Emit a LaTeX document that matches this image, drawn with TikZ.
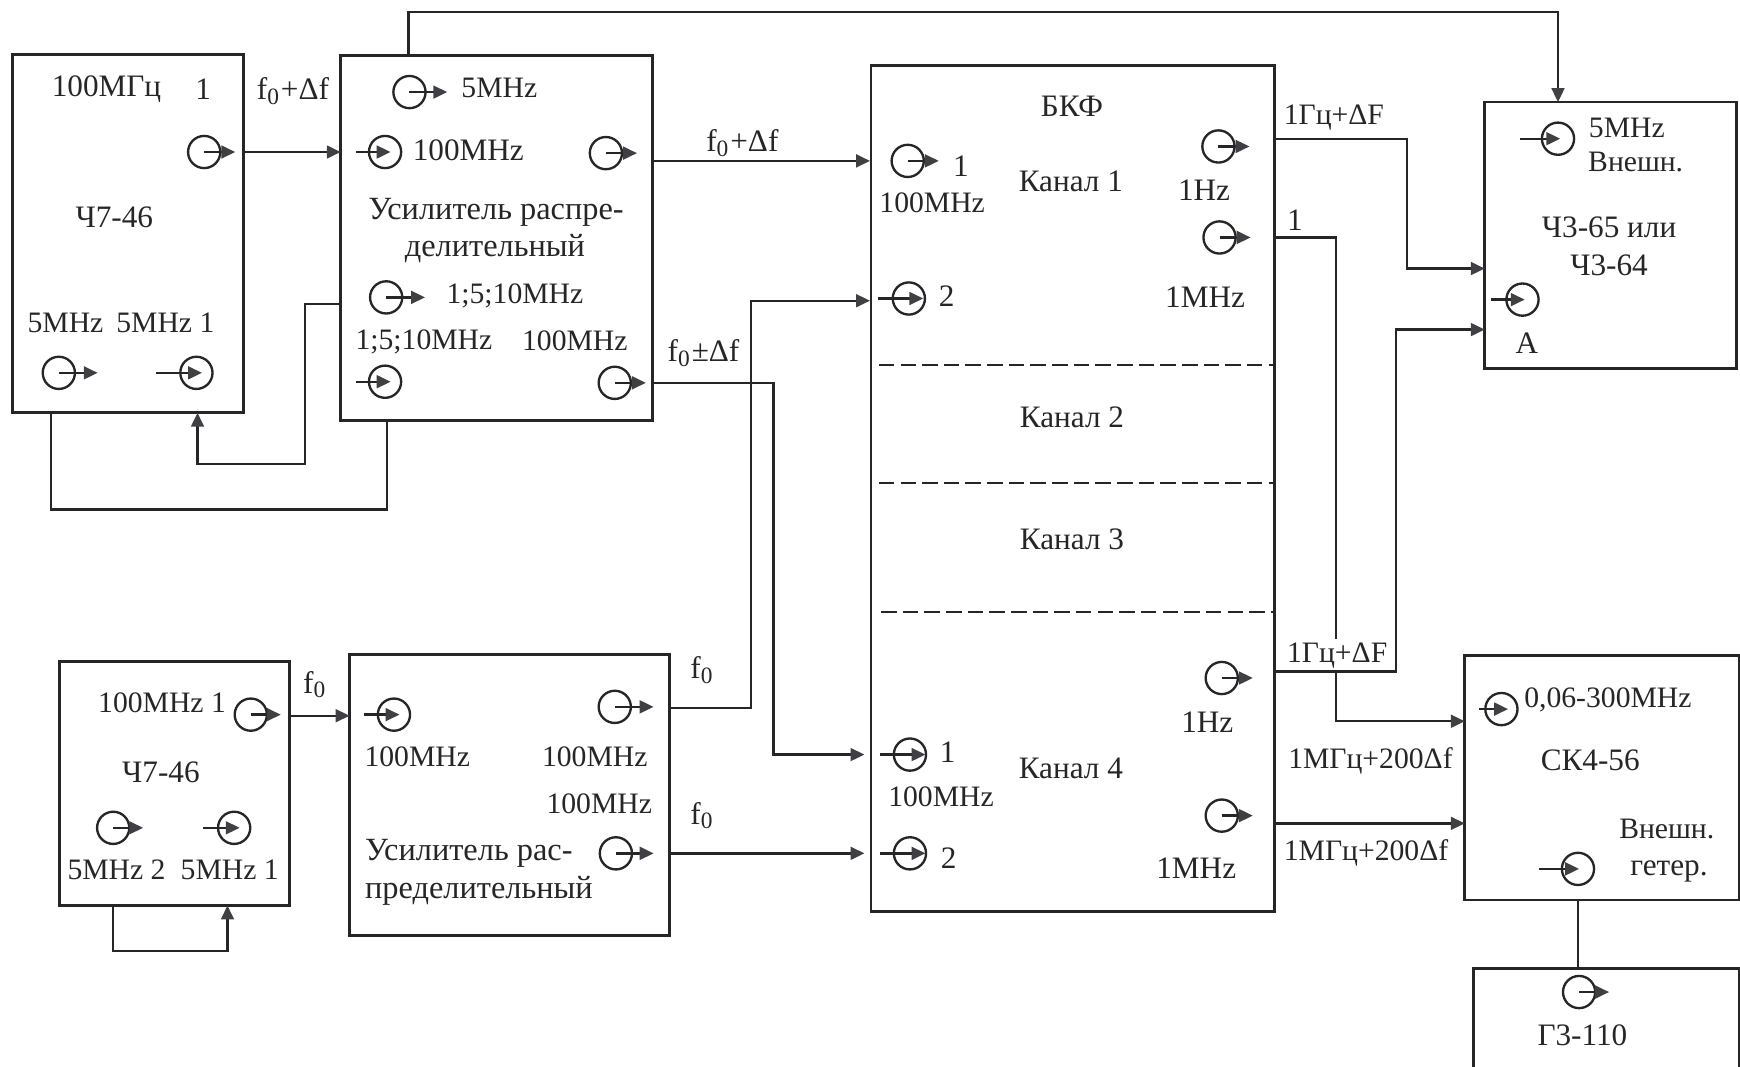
\documentclass[tikz,border=0pt]{standalone}
\definecolor{inkDark}{RGB}{38,38,38}
\definecolor{tipGray}{RGB}{64,64,68}
\usepackage{fontspec}
\setmainfont{Liberation Serif}
\usetikzlibrary{arrows.meta,positioning,calc}

\begin{document}
\begin{tikzpicture}[x=0.01cm, y=-0.01cm, inkDark,
        every node/.style={font=\fontsize{8}{9.6}\selectfont, inner sep=0pt, outer sep=0pt},
        blockbox/.style={draw, line width=0.75pt},
        jack/.style={draw, circle, minimum size=0.29cm, line width=0.6pt},
        arr/.style={-{Triangle[length=0.125cm,width=0.115cm,color=tipGray]},line width=0.6pt},
        lnk/.style={line width=0.6pt},
        chsep/.style={line width=0.55pt, dash pattern=on 0.14cm off 0.055cm},
        lbl/.style={fill=white, inner xsep=1pt, inner ysep=1pt},
        narrowtxt/.style={font=\fontsize{7.6}{9}\selectfont},
        widetxt/.style={font=\fontsize{8.3}{10}\selectfont}
      ]
        \useasboundingbox (0,0) rectangle (1568,961.5);
        % Blocks
        \node[blockbox, minimum width=2.08cm, minimum height=3.23cm] (genA) at (115,210.5) {};
        \node[blockbox, minimum width=2.81cm, minimum height=3.29cm] (ampA) at (447.5,214.5) {};
        \node[blockbox, minimum width=3.63cm, minimum height=7.62cm] (bkf) at (966.5,440) {};
        \node[blockbox, minimum width=2.27cm, minimum height=2.40cm] (chm) at (1451.5,212) {};
        \node[blockbox, minimum width=2.07cm, minimum height=2.20cm] (genB) at (157.5,706) {};
        \node[blockbox, minimum width=2.88cm, minimum height=2.53cm] (ampB) at (459,716.5) {};
        \node[blockbox, minimum width=2.47cm, minimum height=2.20cm] (ska) at (1443.5,701) {};
        \node[blockbox, minimum width=2.39cm, minimum height=1.10cm] (gthr) at (1447.5,928) {};
        % Channel separators
        \coordinate (sepAl) at (792,329);
        \coordinate (sepAr) at (1148,329);
        \coordinate (sepBl) at (792,435);
        \coordinate (sepBr) at (1148,435);
        \coordinate (sepCl) at (794,551.4);
        \coordinate (sepCr) at (1150,551.4);
        \draw[chsep] (sepAl) -- (sepAr);
        \draw[chsep] (sepBl) -- (sepBr);
        \draw[chsep] (sepCl) -- (sepCr);
        % Ports on the block sides
        \coordinate (genAout) at (219,137);
        \coordinate (ampAin) at (307,137);
        \coordinate (ampAtop) at (368,50);
        \coordinate (chmTop) at (1404,92);
        \coordinate (ampAup) at (588,145);
        \coordinate (bkfA) at (784,145);
        \coordinate (ampAlow) at (588,345);
        \coordinate (bkfC) at (779,680);
        \coordinate (ampBup) at (603,638);
        \coordinate (bkfB) at (784,271);
        \coordinate (ampBlow) at (603,769);
        \coordinate (bkfD) at (779,769);
        \coordinate (genBout) at (261,645);
        \coordinate (ampBin) at (315,645);
        \coordinate (genBl) at (102,816);
        \coordinate (genBr) at (205,816);
        \coordinate (ampAside) at (307,274);
        \coordinate (genAr) at (178,372);
        \coordinate (genAl) at (46,372);
        \coordinate (ampAbot) at (349,379);
        \coordinate (bkfE) at (1148,125);
        \coordinate (chmA) at (1338,242);
        \coordinate (bkfF) at (1148,214);
        \coordinate (skaA) at (1320,650);
        \coordinate (bkfG) at (1150,605);
        \coordinate (chmB) at (1338,297);
        \coordinate (bkfH) at (1150,742);
        \coordinate (skaB) at (1320,742);
        \coordinate (skaBot) at (1422,811);
        \coordinate (gthrTop) at (1422,873);
        % Turning points
        \coordinate (topRun) at (800,11);
        \coordinate (busA) at (697,500);
        \coordinate (busB) at (677,500);
        \coordinate (loopB) at (150,857);
        \coordinate (stepA) at (275,418);
        \coordinate (loopA) at (200,459);
        \coordinate (busC) at (1268,180);
        \coordinate (busD) at (1204,400);
        \coordinate (busE) at (1258,450);
        % Connectors
        \draw[arr] (genAout) -- (ampAin);
        \draw[arr] (ampAtop) |- (topRun) -| (chmTop);
        \draw[arr] (ampAup) -- (bkfA);
        \draw[arr] (ampAlow) -| (busA) |- (bkfC);
        \draw[arr] (ampBup) -| (busB) |- (bkfB);
        \draw[arr] (ampBlow) -- (bkfD);
        \draw[arr] (genBout) -- (ampBin);
        \draw[arr] (genBl) |- (loopB) -| (genBr);
        \draw[arr] (ampAside) -| (stepA) -| (genAr);
        \draw[lnk] (genAl) |- (loopA) -| (ampAbot);
        \draw[arr] (bkfE) -| (busC) |- (chmA);
        \draw[arr] (bkfF) -| (busD) |- (skaA);
        % This label sits on the riser above
        \node[narrowtxt, lbl] (sigI) at (1205,591) {1Гц+ΔF};
        \draw[arr] (bkfG) -| (busE) |- (chmB);
        \draw[arr] (bkfH) -- (skaB);
        \draw[lnk] (skaBot) -- (gthrTop);
        % First generator
        \node (genAf) at (96,80) {100МГц};
        \node (genAn) at (183,80) {1};
        \node (genAt) at (103,196) {Ч7-46};
        \node[narrowtxt] (genAc) at (59,291) {5MHz};
        \node[narrowtxt] (genAd) at (149,291) {5MHz 1};
        \node[jack] (jGenA) at (184,137) {};
        \draw[arr] (jGenA.center) -- ++(28,0);
        \node[jack] (jGenB) at (53,336) {};
        \draw[arr] (jGenB.center) -- ++(35,0);
        \node[jack] (jGenC) at (177,336) {};
        \draw[arr] (jGenC.center) ++(-36,0) -- ++(41,0);
        \node (sigA) at (264,82) {f\textsubscript{0}+Δf};
        % First amplifier
        \node[narrowtxt] (ampAa) at (450,79) {5MHz};
        \node (ampAb) at (422,135) {100MHz};
        \node[widetxt] (ampAc) at (447,191) {Усилитель распре-};
        \node[widetxt] (ampAd) at (446,224) {делительный};
        \node[narrowtxt] (ampAe) at (464,267) {1;5;10MHz};
        \node[narrowtxt] (ampAf) at (382,308) {1;5;10MHz};
        \node[narrowtxt] (ampAg) at (518,307) {100MHz};
        \node[jack] (jAmpA) at (369,83) {};
        \draw[arr] (jAmpA.center) -- ++(34,0);
        \node[jack] (jAmpB) at (347,137) {};
        \draw[arr] (jAmpB.center) ++(-26,0) -- ++(31,0);
        \node[jack] (jAmpC) at (546,138) {};
        \draw[arr] (jAmpC.center) -- ++(28,0);
        \node[jack] (jAmpD) at (348,268) {};
        \draw[arr] (jAmpD.center) -- ++(35,0);
        \node[jack] (jAmpE) at (347,344) {};
        \draw[arr] (jAmpE.center) ++(-26,0) -- ++(31,0);
        \node[jack] (jAmpF) at (554,345) {};
        \draw[arr] (jAmpF.center) -- ++(28,0);
        \node (sigB) at (669,129) {f\textsubscript{0}+Δf};
        \node (sigC) at (634,318) {f\textsubscript{0}±Δf};
        % Second generator
        \node[narrowtxt] (genBf) at (146,633) {100MHz 1};
        \node (genBt) at (145,696) {Ч7-46};
        \node[narrowtxt] (genBc) at (105,784) {5MHz 2};
        \node[narrowtxt] (genBd) at (207,784) {5MHz 1};
        \node[jack] (jGenD) at (226,644) {};
        \draw[arr] (jGenD.center) -- ++(27,0);
        \node[jack] (jGenE) at (102,746) {};
        \draw[arr] (jGenE.center) -- ++(27,0);
        \node[jack] (jGenF) at (211,746) {};
        \draw[arr] (jGenF.center) ++(-28,0) -- ++(33,0);
        \node (sigD) at (284,617) {f\textsubscript{0}};
        % Second amplifier
        \node[narrowtxt] (ampBa) at (376,682) {100MHz};
        \node[narrowtxt] (ampBb) at (536,682) {100MHz};
        \node[narrowtxt] (ampBc) at (540,724) {100MHz};
        \node[widetxt, anchor=west] (ampBd) at (329,769) {Усилитель рас-};
        \node[widetxt, anchor=west] (ampBe) at (329,803) {пределительный};
        \node[jack] (jAmpG) at (355,644) {};
        \draw[arr] (jAmpG.center) ++(-27,0) -- ++(32,0);
        \node[jack] (jAmpH) at (554,637) {};
        \draw[arr] (jAmpH.center) -- ++(35,0);
        \node[jack] (jAmpI) at (555,769) {};
        \draw[arr] (jAmpI.center) -- ++(34,0);
        \node (sigE) at (633,604) {f\textsubscript{0}};
        \node (sigF) at (633,735) {f\textsubscript{0}};
        % Channel block
        \node (bkfName) at (966,96) {БКФ};
        \node (chanA) at (965,163) {Канал 1};
        \node (chanB) at (966,376) {Канал 2};
        \node (chanC) at (966,486) {Канал 3};
        \node (chanD) at (965,692) {Канал 4};
        \node (bkfNa) at (866,150) {1};
        \node[narrowtxt] (bkfMa) at (840,183) {100MHz};
        \node (bkfHa) at (1085,171) {1Hz};
        \node (bkfNb) at (853,267) {2};
        \node (bkfMb) at (1086,268) {1MHz};
        \node (bkfHb) at (1088,651) {1Hz};
        \node (bkfNc) at (854,678) {1};
        \node[narrowtxt] (bkfMc) at (848,718) {100MHz};
        \node (bkfNd) at (855,773) {2};
        \node (bkfMd) at (1078,782) {1MHz};
        \node[jack] (jBkfA) at (818,145) {};
        \draw[arr] (jBkfA.center) -- ++(28,0);
        \node[jack] (jBkfB) at (819,269) {};
        \draw[arr] (jBkfB.center) ++(-28,0) -- ++(41,0);
        \node[jack] (jBkfC) at (1098,132) {};
        \draw[arr] (jBkfC.center) -- ++(28,0);
        \node[jack] (jBkfD) at (1099,214) {};
        \draw[arr] (jBkfD.center) -- ++(28,0);
        \node[jack] (jBkfE) at (820,680) {};
        \draw[arr] (jBkfE.center) ++(-27,0) -- ++(41,0);
        \node[jack] (jBkfF) at (820,769) {};
        \draw[arr] (jBkfF.center) ++(-27,0) -- ++(41,0);
        \node[jack] (jBkfG) at (1101,611) {};
        \draw[arr] (jBkfG.center) -- ++(28,0);
        \node[jack] (jBkfH) at (1101,735) {};
        \draw[arr] (jBkfH.center) -- ++(28,0);
        % Labels on the outputs
        \node[narrowtxt] (sigG) at (1202,106) {1Гц+ΔF};
        \node (sigH) at (1167,198) {1};
        \node[narrowtxt] (sigJ) at (1235,686) {1МГц+200Δf};
        \node[narrowtxt] (sigK) at (1231,769) {1МГц+200Δf};
        % Frequency counter
        \node[narrowtxt] (chmAa) at (1466,115) {5MHz};
        \node[narrowtxt] (chmAb) at (1474,146) {Внешн.};
        \node (chmAc) at (1450,205) {Ч3-65 или};
        \node (chmAd) at (1450,239) {Ч3-64};
        \node (chmAe) at (1376,309) {А};
        \node[jack] (jChmA) at (1404,125) {};
        \draw[arr] (jChmA.center) ++(-34,0) -- ++(36,0);
        \node[jack] (jChmB) at (1372,270) {};
        \draw[arr] (jChmB.center) ++(-28,0) -- ++(30,0);
        % Spectrum analyser and heterodyne
        \node[narrowtxt] (skaAa) at (1449,631) {0,06-300MHz};
        \node (skaAb) at (1433,685) {СК4-56};
        \node[narrowtxt] (skaAc) at (1502,747) {Внешн.};
        \node (skaAd) at (1504,785) {гетер.};
        \node[jack] (jSkaA) at (1353,639) {};
        \draw[arr] (jSkaA.center) ++(-20,0) -- ++(26,0);
        \node[jack] (jSkaB) at (1422,783) {};
        \draw[arr] (jSkaB.center) ++(-35,0) -- ++(36,0);
        \node (gthrA) at (1426,933) {Г3-110};
        \node[jack] (jGthr) at (1423,894) {};
        \draw[arr] (jGthr.center) -- ++(27,0);
      \end{tikzpicture}
\end{document}
